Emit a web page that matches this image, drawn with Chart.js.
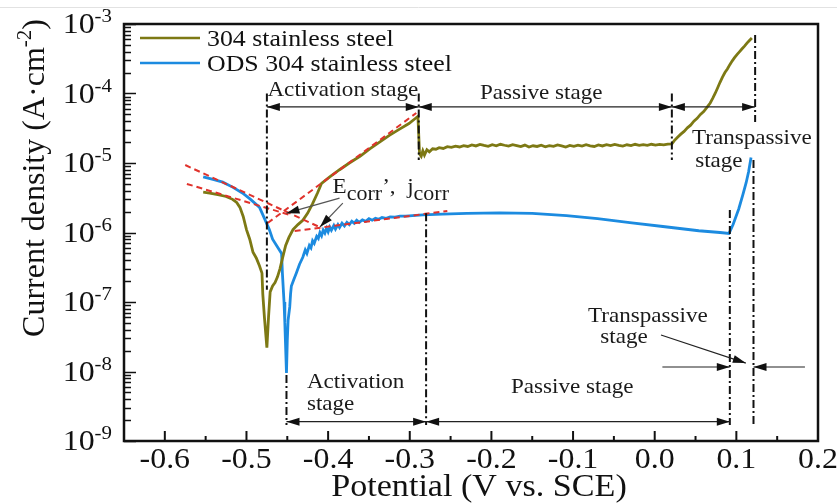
<!DOCTYPE html>
<html>
<head>
<meta charset="utf-8">
<script src="https://cdn.jsdelivr.net/npm/chart.js@4.4.0/dist/chart.umd.min.js"></script>
<style>
  html, body { margin: 0; padding: 0; background: #fff; }
  #wrap { width: 837px; height: 504px; position: relative; }
</style>
</head>
<body>
<div id="wrap"><canvas id="polarization"></canvas></div>
<script>
const SERIF = '"Liberation Serif", "Times New Roman", serif';

// 304 stainless steel: potential (V vs. SCE) and current density (A/cm2)
const ssPotential = [-0.553, -0.545, -0.535, -0.525, -0.517, -0.512, -0.508, -0.504, -0.500, -0.496,
  -0.492, -0.488, -0.484, -0.481, -0.480, -0.478, -0.475, -0.473, -0.471, -0.468,
  -0.465, -0.462, -0.459, -0.456, -0.452, -0.448, -0.443, -0.437, -0.431, -0.425,
  -0.419, -0.413, -0.408, -0.398, -0.386, -0.374, -0.361, -0.349, -0.337, -0.325,
  -0.313, -0.301, -0.294, -0.290,
  -0.288, -0.286, -0.284, -0.282, -0.279, -0.276, -0.272, -0.268, -0.264, -0.259,
  -0.254, -0.249, -0.244, -0.239, -0.234, -0.229, -0.224, -0.219, -0.214, -0.209,
  -0.204, -0.199, -0.194, -0.189, -0.184, -0.179, -0.174, -0.169, -0.164, -0.159,
  -0.154, -0.149, -0.144, -0.139, -0.134, -0.129, -0.124, -0.119, -0.114, -0.109,
  -0.104, -0.099, -0.094, -0.089, -0.084, -0.079, -0.074, -0.069, -0.064, -0.059,
  -0.054, -0.049, -0.044, -0.039, -0.034, -0.029, -0.024, -0.019, -0.014, -0.009,
  -0.004, 0.001, 0.006, 0.011, 0.016, 0.021,
  0.024, 0.028, 0.032, 0.036, 0.040, 0.044, 0.048, 0.052, 0.056, 0.060,
  0.064, 0.068, 0.071, 0.074, 0.077, 0.080, 0.083, 0.086, 0.089, 0.092,
  0.095, 0.098, 0.101, 0.104, 0.107, 0.110, 0.113, 0.116, 0.119];
const ssCurrent = [3.8e-6, 3.7e-6, 3.5e-6, 3.3e-6, 3.0e-6, 2.7e-6, 2.3e-6, 1.7e-6, 1.1e-6, 8.0e-7,
  5.2e-7, 4.3e-7, 3.3e-7, 2.6e-7, 1.3e-7, 6.0e-8, 2.2e-8, 6.0e-8, 1.4e-7, 1.7e-7,
  1.9e-7, 2.3e-7, 3.0e-7, 4.2e-7, 6.5e-7, 8.5e-7, 1.1e-6, 1.3e-6, 1.5e-6, 1.9e-6,
  2.6e-6, 3.7e-6, 5.1e-6, 6.3e-6, 8.0e-6, 1.0e-5, 1.25e-5, 1.6e-5, 2.0e-5, 2.5e-5,
  3.05e-5, 3.7e-5, 4.3e-5, 4.7e-5,
  1.35e-5, 1.25e-5, 1.5e-5, 1.3e-5, 1.55e-5, 1.45e-5, 1.6e-5, 1.58e-5, 1.66e-5, 1.62e-5,
  1.72e-5, 1.68e-5, 1.75e-5, 1.70e-5, 1.78e-5, 1.73e-5, 1.82e-5, 1.76e-5, 1.85e-5, 1.79e-5,
  1.74e-5, 1.83e-5, 1.77e-5, 1.86e-5, 1.80e-5, 1.75e-5, 1.84e-5, 1.78e-5, 1.72e-5, 1.81e-5,
  1.70e-5, 1.77e-5, 1.73e-5, 1.80e-5, 1.71e-5, 1.78e-5, 1.74e-5, 1.82e-5, 1.76e-5, 1.70e-5,
  1.79e-5, 1.74e-5, 1.81e-5, 1.75e-5, 1.83e-5, 1.77e-5, 1.73e-5, 1.82e-5, 1.76e-5, 1.84e-5,
  1.78e-5, 1.85e-5, 1.79e-5, 1.75e-5, 1.83e-5, 1.78e-5, 1.86e-5, 1.80e-5, 1.84e-5, 1.79e-5,
  1.86e-5, 1.81e-5, 1.85e-5, 1.82e-5, 1.87e-5, 1.88e-5,
  2.1e-5, 2.35e-5, 2.6e-5, 2.85e-5, 3.2e-5, 3.5e-5, 4.0e-5, 4.4e-5, 5.0e-5, 5.5e-5,
  6.3e-5, 7.3e-5, 8.5e-5, 1.0e-4, 1.2e-4, 1.45e-4, 1.72e-4, 2.0e-4, 2.25e-4, 2.6e-4,
  2.95e-4, 3.3e-4, 3.65e-4, 4.0e-4, 4.4e-4, 4.8e-4, 5.3e-4, 5.8e-4, 6.3e-4];

// ODS 304 stainless steel
const odsPotential = [-0.553, -0.541, -0.529, -0.517, -0.505, -0.495, -0.484, -0.478, -0.472, -0.468,
  -0.462, -0.457, -0.456, -0.454, -0.453, -0.451, -0.450, -0.449, -0.447, -0.446,
  -0.445, -0.442, -0.439, -0.435, -0.431, -0.428, -0.426, -0.423, -0.421, -0.419,
  -0.417, -0.414, -0.412, -0.410, -0.408, -0.406, -0.404, -0.402, -0.400, -0.398,
  -0.396, -0.393, -0.391, -0.388, -0.386, -0.383, -0.380, -0.377, -0.374, -0.371,
  -0.368, -0.365, -0.362, -0.358, -0.354, -0.350, -0.346, -0.342, -0.338, -0.334,
  -0.329, -0.324, -0.318, -0.312, -0.305, -0.284, -0.26, -0.23, -0.19, -0.15,
  -0.108, -0.07, -0.028, 0.01, 0.054, 0.08, 0.091, 0.096, 0.103, 0.108,
  0.112, 0.115, 0.118];
const odsCurrent = [6.3e-6, 5.8e-6, 5.3e-6, 4.5e-6, 3.7e-6, 3.0e-6, 2.3e-6, 1.6e-6, 1.1e-6, 8.0e-7,
  6.2e-7, 5.0e-7, 2.6e-7, 1.0e-7, 5.0e-8, 9.5e-9, 2.8e-8, 5.5e-8, 8.5e-8, 1.3e-7,
  1.7e-7, 2.1e-7, 2.6e-7, 3.5e-7, 4.4e-7, 5.6e-7, 5.0e-7, 6.5e-7, 6.0e-7, 7.6e-7,
  7.0e-7, 8.8e-7, 8.2e-7, 1.0e-6, 9.0e-7, 1.08e-6, 9.8e-7, 1.15e-6, 1.02e-6, 1.2e-6,
  1.08e-6, 1.26e-6, 1.12e-6, 1.3e-6, 1.18e-6, 1.36e-6, 1.24e-6, 1.4e-6, 1.3e-6, 1.45e-6,
  1.36e-6, 1.5e-6, 1.4e-6, 1.52e-6, 1.45e-6, 1.58e-6, 1.5e-6, 1.6e-6, 1.55e-6, 1.64e-6,
  1.6e-6, 1.67e-6, 1.66e-6, 1.72e-6, 1.72e-6, 1.79e-6, 1.84e-6, 1.88e-6, 1.91e-6, 1.88e-6,
  1.75e-6, 1.58e-6, 1.38e-6, 1.22e-6, 1.06e-6, 1.0e-6, 9.7e-7, 1.3e-6, 2.2e-6, 3.5e-6,
  5.2e-6, 7.5e-6, 1.2e-5];

// Tafel extrapolation lines (end points)
const tafelPotential = [[-0.575, -0.408], [-0.573, -0.447], [-0.474, -0.292], [-0.441, -0.254]];
const tafelCurrent = [[9.35e-6, 1.16e-6], [5.0e-6, 1.79e-6], [1.37e-6, 5.24e-5], [1.05e-6, 2.04e-6]];

// stage boundaries (V)
const ssBounds = [-0.475, -0.289, 0.021, 0.123];
const odsBounds = [-0.451, -0.280, 0.092, 0.121];

// axes
const xTickValues = [-0.6, -0.5, -0.4, -0.3, -0.2, -0.1, 0.0, 0.1, 0.2];
const xTickLabels = ['-0.6', '-0.5', '-0.4', '-0.3', '-0.2', '-0.1', '0.0', '0.1', '0.2'];
const yTickExponents = [-9, -8, -7, -6, -5, -4, -3];

const OLIVE = '#7d7914';
const BLUE = '#1c8be0';
const RED = '#e0322c';

function toPoints(xs, ys) {
  return xs.map((x, i) => ({ x: x, y: ys[i] }));
}

const datasets = [];
tafelPotential.forEach((xs, i) => {
  datasets.push({
    label: 'fit' + i, data: toPoints(xs, tafelCurrent[i]),
    borderColor: RED, borderWidth: 2, borderDash: [6, 4], pointRadius: 0, order: 1, inLegend: false
  });
});
datasets.push({
  label: '304 stainless steel', data: toPoints(ssPotential, ssCurrent),
  borderColor: OLIVE, borderWidth: 2.8, pointRadius: 0, order: 2, inLegend: true
});
datasets.push({
  label: 'ODS 304 stainless steel', data: toPoints(odsPotential, odsCurrent),
  borderColor: BLUE, borderWidth: 2.8, pointRadius: 0, order: 2, inLegend: true
});

// text helpers (slightly wide serif, like the original figure)
const SX = 1.1;
function drawRuns(ctx, runs, x, y, align) {
  let total = 0;
  runs.forEach(r => { ctx.font = r.size + 'px ' + SERIF; r.w = ctx.measureText(r.t).width * SX; total += r.w; });
  let cx = align === 'center' ? x - total / 2 : align === 'right' ? x - total : x;
  runs.forEach(r => {
    ctx.save();
    ctx.font = r.size + 'px ' + SERIF;
    ctx.textAlign = 'left';
    ctx.textBaseline = 'alphabetic';
    ctx.translate(cx, y + (r.dy || 0));
    ctx.scale(SX, 1);
    ctx.fillText(r.t, 0, 0);
    ctx.restore();
    cx += r.w;
  });
}
function label(ctx, t, x, y, size, align) {
  drawRuns(ctx, [{ t: t, size: size }], x, y, align);
}
function head(ctx, x1, y1, x2, y2, len, half) {
  const a = Math.atan2(y2 - y1, x2 - x1);
  ctx.beginPath();
  ctx.moveTo(x2, y2);
  ctx.lineTo(x2 - len * Math.cos(a) + half * Math.sin(a), y2 - len * Math.sin(a) - half * Math.cos(a));
  ctx.lineTo(x2 - len * Math.cos(a) - half * Math.sin(a), y2 - len * Math.sin(a) + half * Math.cos(a));
  ctx.closePath();
  ctx.fill();
}
function arrow(ctx, x1, y1, x2, y2, both) {
  ctx.beginPath();
  ctx.moveTo(x1, y1);
  ctx.lineTo(x2, y2);
  ctx.stroke();
  head(ctx, x1, y1, x2, y2, 13, 4);
  if (both) head(ctx, x2, y2, x1, y1, 13, 4);
}

const decor = {
  id: 'decor',
  afterDatasetsDraw(chart) {
    const { ctx, chartArea: a } = chart;
    const sx = chart.scales.x, sy = chart.scales.y;
    const px = v => sx.getPixelForValue(v);
    const py = v => sy.getPixelForValue(v);
    ctx.save();

    // faint rule at very top of the image
    ctx.strokeStyle = '#e2e2e2';
    ctx.lineWidth = 1;
    ctx.beginPath(); ctx.moveTo(0, 7.5); ctx.lineTo(chart.width, 7.5); ctx.stroke();

    // frame
    ctx.strokeStyle = '#111';
    ctx.lineWidth = 2.5;
    ctx.strokeRect(a.left, a.top, a.right - a.left, a.bottom - a.top);

    // y ticks (inward, log minor ticks)
    ctx.lineWidth = 1.5;
    yTickExponents.forEach(e => {
      for (let m = 1; m <= 9; m++) {
        const v = m * Math.pow(10, e);
        if (v > 1.0001e-3) break;
        const y = Math.round(py(v)) + 0.5;
        ctx.beginPath();
        ctx.moveTo(a.left, y);
        ctx.lineTo(a.left + (m === 1 ? 12 : 7), y);
        ctx.stroke();
      }
    });
    // x ticks (inward)
    ctx.lineWidth = 2;
    xTickValues.forEach((v, i) => {
      const x = px(v);
      ctx.beginPath(); ctx.moveTo(x, a.bottom); ctx.lineTo(x, a.bottom - 10); ctx.stroke();
      if (i < xTickValues.length - 1) {
        const xm = px((v + xTickValues[i + 1]) / 2);
        ctx.beginPath(); ctx.moveTo(xm, a.bottom); ctx.lineTo(xm, a.bottom - 5); ctx.stroke();
      }
    });

    // tick labels
    ctx.fillStyle = '#111';
    xTickValues.forEach((v, i) => label(ctx, xTickLabels[i], px(v), a.bottom + 27, 29, 'center'));
    yTickExponents.forEach(e => {
      const y = py(Math.pow(10, e));
      drawRuns(ctx, [{ t: '10', size: 29 }, { t: String(e), size: 19, dy: -11 }], a.left - 12, y + 9, 'right');
    });

    // axis titles
    label(ctx, 'Potential (V vs. SCE)', (a.left + a.right) / 2 + 8, 496, 31, 'center');
    ctx.save();
    ctx.translate(44, 178);
    ctx.rotate(-Math.PI / 2);
    const yRuns = [{ t: 'Current density (A\u00b7cm', size: 32 }, { t: '-2', size: 21, dy: -13 }, { t: ')', size: 32 }];
    let tw = 0;
    yRuns.forEach(r => { ctx.font = r.size + 'px ' + SERIF; r.w = ctx.measureText(r.t).width; tw += r.w; });
    let cx = -tw / 2;
    yRuns.forEach(r => {
      ctx.font = r.size + 'px ' + SERIF;
      ctx.fillText(r.t, cx, r.dy || 0);
      cx += r.w;
    });
    ctx.restore();

    // legend
    let ly = 38;
    chart.data.datasets.filter(d => d.inLegend).forEach(d => {
      ctx.strokeStyle = d.borderColor;
      ctx.lineWidth = 2.5;
      ctx.beginPath(); ctx.moveTo(140, ly); ctx.lineTo(200, ly); ctx.stroke();
      ctx.fillStyle = '#111';
      label(ctx, d.label, 207, ly + 8, 23.5, 'left');
      ly += 25;
    });

    // stage boundaries (dash-dot)
    ctx.strokeStyle = '#111';
    ctx.lineWidth = 2;
    ctx.setLineDash([8, 3, 2, 3]);
    const vline = (v, c1, c2) => {
      ctx.beginPath(); ctx.moveTo(px(v), py(c1)); ctx.lineTo(px(v), py(c2)); ctx.stroke();
    };
    vline(ssBounds[0], 1.0e-4, 1.5e-7);
    vline(ssBounds[1], 1.0e-4, 1.1e-5);
    vline(ssBounds[2], 1.0e-4, 1.1e-5);
    vline(ssBounds[3], 6.95e-4, 3.9e-5);
    vline(odsBounds[0], 8.9e-9, 1.7e-9);
    vline(odsBounds[1], 1.9e-6, 1.7e-9);
    vline(odsBounds[2], 2.1e-6, 1.7e-9);
    vline(odsBounds[3], 1.1e-5, 1.7e-9);
    ctx.setLineDash([]);

    // stage arrows
    ctx.strokeStyle = '#222';
    ctx.fillStyle = '#111';
    ctx.lineWidth = 1.2;
    const yTop = py(6.4e-5), yBot = py(1.9e-9), yTr = py(1.16e-8);
    for (let i = 0; i < 3; i++) arrow(ctx, px(ssBounds[i]), yTop, px(ssBounds[i + 1]), yTop, true);
    for (let i = 0; i < 2; i++) arrow(ctx, px(odsBounds[i]), yBot, px(odsBounds[i + 1]), yBot, true);
    arrow(ctx, px(0.0094), yTr, px(odsBounds[2]), yTr, false);
    arrow(ctx, px(0.184), yTr, px(odsBounds[3]), yTr, false);
    arrow(ctx, px(0.0077), py(3.35e-8), px(0.1116), py(1.32e-8), false);
    ctx.strokeStyle = '#555';
    arrow(ctx, px(-0.386), py(3.13e-6), px(-0.451), py(1.9e-6), false);
    arrow(ctx, px(-0.382), py(2.65e-6), px(-0.410), py(1.2e-6), false);

    // stage labels
    ctx.fillStyle = '#1a1a1a';
    label(ctx, 'Activation stage', px(-0.382), py(9.2e-5), 21, 'center');
    label(ctx, 'Passive stage', px(-0.139), py(8.3e-5), 21, 'center');
    label(ctx, 'Transpassive', px(0.119), py(1.87e-5), 21, 'center');
    label(ctx, 'stage', px(0.0786), py(8.75e-6), 21, 'center');
    label(ctx, 'Activation', px(-0.426), py(5.8e-9), 21, 'left');
    label(ctx, 'stage', px(-0.426), py(2.8e-9), 21, 'left');
    label(ctx, 'Passive stage', px(-0.101), py(4.9e-9), 21, 'center');
    label(ctx, 'Transpassive', px(-0.0084), py(5.15e-8), 21, 'center');
    label(ctx, 'stage', px(-0.0375), py(2.57e-8), 21, 'center');
    drawRuns(ctx, [
      { t: 'E', size: 21 }, { t: 'corr', size: 20, dy: 7 }, { t: '\u2019,  ', size: 21 },
      { t: 'j', size: 21 }, { t: 'corr', size: 20, dy: 7 }
    ], px(-0.3945), py(3.7e-6), 'left');

    ctx.restore();
  }
};

new Chart(document.getElementById('polarization'), {
  type: 'line',
  data: { datasets: datasets },
  options: {
    responsive: true,
    maintainAspectRatio: false,
    animation: false,
    devicePixelRatio: 1,
    layout: { padding: { left: 124, right: 19, top: 24, bottom: 63 } },
    elements: { line: { tension: 0 } },
    plugins: { legend: { display: false }, tooltip: { enabled: false } },
    scales: {
      x: { type: 'linear', min: -0.65, max: 0.2, display: false },
      y: { type: 'logarithmic', min: 1e-9, max: 1e-3, display: false }
    }
  },
  plugins: [decor]
});
</script>
</body>
</html>
